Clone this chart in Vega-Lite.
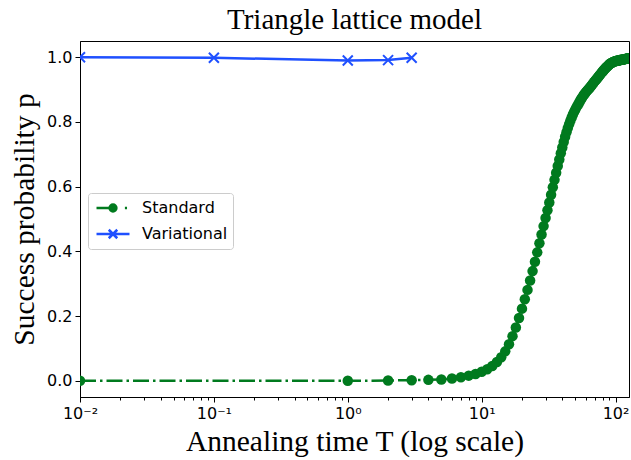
{
  "$schema": "https://vega.github.io/schema/vega-lite/v6.json",
  "width": 549,
  "height": 356,
  "autosize": {"type": "none"},
  "padding": {"left": 80, "top": 41, "right": 2, "bottom": 63},
  "background": "white",
  "title": {"text": "Triangle lattice model", "font": "Liberation Serif", "fontSize": 29, "fontWeight": "normal", "color": "#000", "offset": 6, "anchor": "middle"},
  "config": {
    "view": {"stroke": "#000", "strokeWidth": 1},
    "axis": {"domainColor": "#000", "tickColor": "#000", "labelColor": "#000", "titleColor": "#000", "grid": false, "labelFont": "DejaVu Sans", "labelFontSize": 16, "titleFont": "Liberation Serif", "titleFontWeight": "normal", "titleFontSize": 29.5, "tickSize": 5, "labelPadding": 3, "labelFlush": false}
  },
  "data": {"values": [
    {"series": "Standard", "T": 0.01, "p": 0},
    {"series": "Standard", "T": 1, "p": 0},
    {"series": "Standard", "T": 2, "p": 0.001},
    {"series": "Standard", "T": 3, "p": 0.002},
    {"series": "Standard", "T": 4, "p": 0.003},
    {"series": "Standard", "T": 5, "p": 0.004},
    {"series": "Standard", "T": 6, "p": 0.007},
    {"series": "Standard", "T": 7, "p": 0.011},
    {"series": "Standard", "T": 8, "p": 0.016},
    {"series": "Standard", "T": 9, "p": 0.021},
    {"series": "Standard", "T": 10, "p": 0.028},
    {"series": "Standard", "T": 11, "p": 0.036},
    {"series": "Standard", "T": 12, "p": 0.046},
    {"series": "Standard", "T": 13, "p": 0.058},
    {"series": "Standard", "T": 14, "p": 0.073},
    {"series": "Standard", "T": 15, "p": 0.091},
    {"series": "Standard", "T": 16, "p": 0.113},
    {"series": "Standard", "T": 17, "p": 0.138},
    {"series": "Standard", "T": 18, "p": 0.165},
    {"series": "Standard", "T": 19, "p": 0.194},
    {"series": "Standard", "T": 20, "p": 0.223},
    {"series": "Standard", "T": 21, "p": 0.252},
    {"series": "Standard", "T": 22, "p": 0.281},
    {"series": "Standard", "T": 23, "p": 0.310},
    {"series": "Standard", "T": 24, "p": 0.339},
    {"series": "Standard", "T": 25, "p": 0.368},
    {"series": "Standard", "T": 26, "p": 0.397},
    {"series": "Standard", "T": 27, "p": 0.425},
    {"series": "Standard", "T": 28, "p": 0.452},
    {"series": "Standard", "T": 29, "p": 0.478},
    {"series": "Standard", "T": 30, "p": 0.503},
    {"series": "Standard", "T": 31, "p": 0.527},
    {"series": "Standard", "T": 32, "p": 0.551},
    {"series": "Standard", "T": 33, "p": 0.575},
    {"series": "Standard", "T": 34, "p": 0.598},
    {"series": "Standard", "T": 35, "p": 0.621},
    {"series": "Standard", "T": 36, "p": 0.643},
    {"series": "Standard", "T": 37, "p": 0.664},
    {"series": "Standard", "T": 38, "p": 0.684},
    {"series": "Standard", "T": 39, "p": 0.703},
    {"series": "Standard", "T": 40, "p": 0.721},
    {"series": "Standard", "T": 41, "p": 0.738},
    {"series": "Standard", "T": 42, "p": 0.754},
    {"series": "Standard", "T": 43, "p": 0.768},
    {"series": "Standard", "T": 44, "p": 0.781},
    {"series": "Standard", "T": 45, "p": 0.793},
    {"series": "Standard", "T": 46, "p": 0.804},
    {"series": "Standard", "T": 47, "p": 0.814},
    {"series": "Standard", "T": 48, "p": 0.823},
    {"series": "Standard", "T": 49, "p": 0.831},
    {"series": "Standard", "T": 50, "p": 0.838},
    {"series": "Standard", "T": 51, "p": 0.845},
    {"series": "Standard", "T": 52, "p": 0.851},
    {"series": "Standard", "T": 53, "p": 0.857},
    {"series": "Standard", "T": 54, "p": 0.863},
    {"series": "Standard", "T": 55, "p": 0.869},
    {"series": "Standard", "T": 56, "p": 0.874},
    {"series": "Standard", "T": 57, "p": 0.879},
    {"series": "Standard", "T": 58, "p": 0.884},
    {"series": "Standard", "T": 59, "p": 0.888},
    {"series": "Standard", "T": 60, "p": 0.892},
    {"series": "Standard", "T": 61, "p": 0.895},
    {"series": "Standard", "T": 62, "p": 0.899},
    {"series": "Standard", "T": 63, "p": 0.902},
    {"series": "Standard", "T": 64, "p": 0.905},
    {"series": "Standard", "T": 65, "p": 0.909},
    {"series": "Standard", "T": 66, "p": 0.912},
    {"series": "Standard", "T": 67, "p": 0.916},
    {"series": "Standard", "T": 68, "p": 0.919},
    {"series": "Standard", "T": 69, "p": 0.923},
    {"series": "Standard", "T": 70, "p": 0.926},
    {"series": "Standard", "T": 71, "p": 0.929},
    {"series": "Standard", "T": 72, "p": 0.932},
    {"series": "Standard", "T": 73, "p": 0.935},
    {"series": "Standard", "T": 74, "p": 0.938},
    {"series": "Standard", "T": 75, "p": 0.941},
    {"series": "Standard", "T": 76, "p": 0.944},
    {"series": "Standard", "T": 77, "p": 0.947},
    {"series": "Standard", "T": 78, "p": 0.950},
    {"series": "Standard", "T": 79, "p": 0.953},
    {"series": "Standard", "T": 80, "p": 0.956},
    {"series": "Standard", "T": 81, "p": 0.958},
    {"series": "Standard", "T": 82, "p": 0.961},
    {"series": "Standard", "T": 83, "p": 0.963},
    {"series": "Standard", "T": 84, "p": 0.966},
    {"series": "Standard", "T": 85, "p": 0.968},
    {"series": "Standard", "T": 86, "p": 0.970},
    {"series": "Standard", "T": 87, "p": 0.972},
    {"series": "Standard", "T": 88, "p": 0.974},
    {"series": "Standard", "T": 89, "p": 0.976},
    {"series": "Standard", "T": 90, "p": 0.978},
    {"series": "Standard", "T": 91, "p": 0.980},
    {"series": "Standard", "T": 92, "p": 0.981},
    {"series": "Standard", "T": 93, "p": 0.982},
    {"series": "Standard", "T": 94, "p": 0.983},
    {"series": "Standard", "T": 95, "p": 0.984},
    {"series": "Standard", "T": 96, "p": 0.985},
    {"series": "Standard", "T": 97, "p": 0.986},
    {"series": "Standard", "T": 98, "p": 0.987},
    {"series": "Standard", "T": 99, "p": 0.987},
    {"series": "Standard", "T": 100, "p": 0.988},
    {"series": "Standard", "T": 101, "p": 0.988},
    {"series": "Standard", "T": 102, "p": 0.989},
    {"series": "Standard", "T": 103, "p": 0.989},
    {"series": "Standard", "T": 104, "p": 0.990},
    {"series": "Standard", "T": 105, "p": 0.990},
    {"series": "Standard", "T": 106, "p": 0.990},
    {"series": "Standard", "T": 107, "p": 0.991},
    {"series": "Standard", "T": 108, "p": 0.991},
    {"series": "Standard", "T": 109, "p": 0.991},
    {"series": "Standard", "T": 110, "p": 0.992},
    {"series": "Standard", "T": 111, "p": 0.992},
    {"series": "Standard", "T": 112, "p": 0.992},
    {"series": "Standard", "T": 113, "p": 0.993},
    {"series": "Standard", "T": 114, "p": 0.993},
    {"series": "Standard", "T": 115, "p": 0.993},
    {"series": "Standard", "T": 116, "p": 0.994},
    {"series": "Standard", "T": 117, "p": 0.994},
    {"series": "Standard", "T": 118, "p": 0.994},
    {"series": "Standard", "T": 119, "p": 0.995},
    {"series": "Standard", "T": 120, "p": 0.995},
    {"series": "Standard", "T": 121, "p": 0.995},
    {"series": "Standard", "T": 122, "p": 0.996},
    {"series": "Standard", "T": 123, "p": 0.996},
    {"series": "Standard", "T": 124, "p": 0.996},
    {"series": "Standard", "T": 125, "p": 0.997},
    {"series": "Variational", "T": 0.01, "p": 1.0},
    {"series": "Variational", "T": 0.1, "p": 0.998},
    {"series": "Variational", "T": 1, "p": 0.99},
    {"series": "Variational", "T": 2, "p": 0.991},
    {"series": "Variational", "T": 3, "p": 0.998}
  ]},
  "layer": [
    {
      "transform": [{"filter": "datum.series == 'Standard'"}],
      "mark": {"type": "line", "color": "#007a1e", "strokeWidth": 2.5, "strokeDash": [16, 4, 2.5, 4], "clip": true},
      "encoding": {
        "x": {"field": "T", "type": "quantitative", "scale": {"type": "log", "domain": [0.01, 126], "nice": false},
              "axis": {"orient": "bottom", "values": [0.01, 0.1, 1, 10, 100], "labelExpr": "datum.value < 0.05 ? '10⁻²' : datum.value < 0.5 ? '10⁻¹' : datum.value < 5 ? '10⁰' : datum.value < 50 ? '10¹' : '10²'", "title": "Annealing time T (log scale)", "titlePadding": 6}},
        "y": {"field": "p", "type": "quantitative", "scale": {"domain": [-0.05, 1.05], "nice": false, "zero": false},
              "axis": {"values": [0, 0.2, 0.4, 0.6, 0.8, 1.0], "format": ".1f", "title": "Success probability p", "titlePadding": 7}}
      }
    },
    {
      "transform": [{"filter": "datum.series == 'Standard'"}],
      "mark": {"type": "point", "shape": "circle", "filled": true, "size": 110, "color": "#007a1e", "opacity": 1, "clip": true},
      "encoding": {
        "x": {"field": "T", "type": "quantitative", "axis": {"orient": "bottom", "values": [0.02,0.03,0.04,0.05,0.06,0.07,0.08,0.09,0.2,0.3,0.4,0.5,0.6,0.7,0.8,0.9,2,3,4,5,6,7,8,9,20,30,40,50,60,70,80,90], "labels": false, "tickSize": 3, "title": null, "domain": false}},
        "y": {"field": "p", "type": "quantitative"}
      }
    },
    {
      "transform": [{"filter": "datum.series == 'Variational'"}],
      "mark": {"type": "line", "color": "#1f50ff", "strokeWidth": 2.5, "clip": true},
      "encoding": {
        "x": {"field": "T", "type": "quantitative", "axis": null},
        "y": {"field": "p", "type": "quantitative"}
      }
    },
    {
      "transform": [{"filter": "datum.series == 'Variational'"}],
      "mark": {"type": "point", "shape": "M-1,-1L1,1M-1,1L1,-1", "filled": false, "size": 100, "stroke": "#1f50ff", "strokeWidth": 2, "opacity": 1, "clip": true},
      "encoding": {
        "x": {"field": "T", "type": "quantitative", "axis": null},
        "y": {"field": "p", "type": "quantitative"}
      }
    },
    {
      "mark": {"type": "point", "filled": true, "opacity": 0, "clip": true},
      "encoding": {
        "x": {"field": "T", "type": "quantitative", "axis": null},
        "y": {"field": "p", "type": "quantitative"},
        "color": {"field": "series", "type": "nominal",
                  "scale": {"domain": ["Standard", "Variational"], "range": ["#007a1e", "#1f50ff"]},
                  "legend": {"orient": "none", "legendX": 8, "legendY": 152, "title": null, "fillColor": "white", "strokeColor": "#cccccc", "cornerRadius": 3, "padding": 5, "labelFont": "DejaVu Sans", "labelFontSize": 16, "labelColor": "#000", "symbolSize": 289, "symbolOffset": 10, "labelOffset": 19, "rowPadding": 7, "symbolStrokeWidth": 2.5, "symbolOpacity": 1,
                             "encode": {"symbols": {"update": {"stroke": {"scale": "color", "field": "value"}, "fill": {"scale": "color", "field": "value"}, "strokeWidth": {"value": 2.5}, "opacity": {"value": 1}}}}}},
        "shape": {"field": "series", "type": "nominal",
                  "scale": {"domain": ["Standard", "Variational"], "range": ["M-1.94,0L0,0M1.4,0L1.65,0M-0.4,0A0.4,0.4,0,1,0,0.4,0A0.4,0.4,0,1,0,-0.4,0Z", "M-1.94,0L1.94,0M-0.5,-0.5L0.5,0.5M-0.5,0.5L0.5,-0.5"]}}
      }
    }
  ],
  "resolve": {"axis": {"x": "independent"}}
}
